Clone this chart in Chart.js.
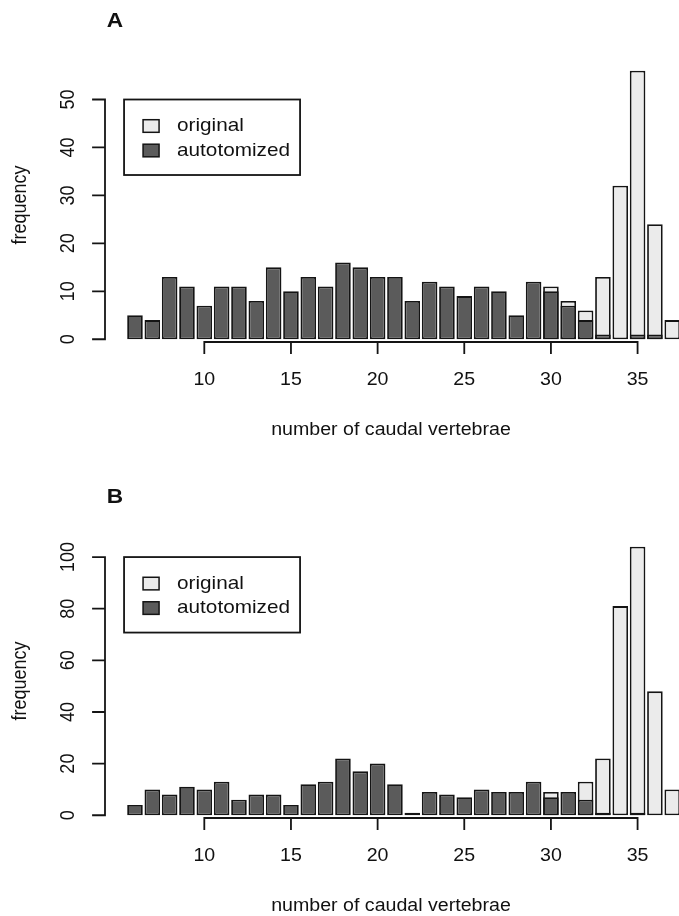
<!DOCTYPE html>
<html>
<head>
<meta charset="utf-8">
<script src="https://cdn.jsdelivr.net/npm/chart.js@4.4.1/dist/chart.umd.min.js"></script>
<style>
  html, body { margin: 0; padding: 0; background: #ffffff; }
  #wrap { position: relative; width: 679px; height: 916px; overflow: hidden; background: #fff; }
  canvas { position: absolute; left: 0; }
  #cA { top: 0; }
  #cB { top: 476px; }
</style>
</head>
<body>
<div id="wrap">
  <canvas id="cA" width="679" height="476"></canvas>
  <canvas id="cB" width="679" height="440"></canvas>
</div>
<script>
// ---- data ----
const categories = [6, 7, 8, 9, 10, 11, 12, 13, 14, 15, 16, 17, 18, 19, 20, 21,
                    22, 23, 24, 25, 26, 27, 28, 29, 30, 31, 32, 33, 34, 35, 36, 37];

const originalA    = [0, 0, 0, 0, 0, 0, 0, 0, 0, 0, 0, 0, 0, 0, 0, 0,
                      0, 0, 0, 0, 0, 0, 0, 0, 11, 8, 6, 13, 32, 56, 24, 4];
const autotomizedA = [5, 4, 13, 11, 7, 11, 11, 8, 15, 10, 13, 11, 16, 15, 13, 13,
                      8, 12, 11, 9, 11, 10, 5, 12, 10, 7, 4, 1, 0, 1, 1, 0];

const originalB    = [0, 0, 0, 0, 0, 0, 0, 0, 0, 0, 0, 0, 0, 0, 0, 0,
                      0, 0, 0, 0, 0, 0, 0, 0, 9, 0, 13, 22, 81, 104, 48, 10];
const autotomizedB = [4, 10, 8, 11, 10, 13, 6, 8, 8, 4, 12, 13, 22, 17, 20, 12,
                      1, 9, 8, 7, 10, 9, 9, 13, 7, 9, 6, 1, 0, 1, 0, 0];

const xTicks  = [10, 15, 20, 25, 30, 35];
const yTicksA = [0, 10, 20, 30, 40, 50];
const yTicksB = [0, 20, 40, 60, 80, 100];

const panelLabels = ['A', 'B'];
const seriesNames = ['original', 'autotomized'];
const xTitle = 'number of caudal vertebrae';
const yTitle = 'frequency';

// ---- styling ----
const LIGHT = '#ebebeb';
const DARK = '#5b5b5b';
const EDGE = '#141414';
const FONT = '"Liberation Sans", Arial, sans-serif';
const SX = 1.12; // horizontal stretch of the reference text

function txt(ctx, s, x, y, size, opts) {
  opts = opts || {};
  ctx.save();
  ctx.translate(x, y);
  ctx.scale(opts.sx || SX, 1);
  if (opts.rot) ctx.rotate(opts.rot);
  ctx.font = (opts.bold ? 'bold ' : '') + size + 'px ' + FONT;
  ctx.fillStyle = '#111';
  ctx.textAlign = opts.align || 'center';
  ctx.textBaseline = 'middle';
  ctx.fillText(s, 0, 0);
  ctx.restore();
}

const rAxes = {
  id: 'rAxes',
  afterDraw(chart, args, o) {
    const ctx = chart.ctx;
    const xs = chart.scales.x, ys = chart.scales.y;
    ctx.save();
    ctx.strokeStyle = EDGE;
    ctx.lineWidth = 1.8;
    ctx.lineCap = 'square';
    // x axis
    const axY = 342;
    const x0 = xs.getPixelForValue(o.xTicks[0]);
    const x1 = xs.getPixelForValue(o.xTicks[o.xTicks.length - 1]);
    ctx.beginPath();
    ctx.moveTo(x0, axY); ctx.lineTo(x1, axY);
    o.xTicks.forEach(t => {
      const px = xs.getPixelForValue(t);
      ctx.moveTo(px, axY); ctx.lineTo(px, axY + 11);
    });
    ctx.stroke();
    o.xTicks.forEach(t => txt(ctx, String(t), xs.getPixelForValue(t), 380, 17.5));
    // y axis
    const axX = 105;
    const y0 = ys.getPixelForValue(o.yTicks[0]);
    const y1 = ys.getPixelForValue(o.yTicks[o.yTicks.length - 1]);
    ctx.beginPath();
    ctx.moveTo(axX, y0); ctx.lineTo(axX, y1);
    o.yTicks.forEach(t => {
      const py = ys.getPixelForValue(t);
      ctx.moveTo(axX, py); ctx.lineTo(axX - 12, py);
    });
    ctx.stroke();
    o.yTicks.forEach(t => txt(ctx, String(t), 68, ys.getPixelForValue(t), 18, {rot: -Math.PI / 2}));
    // titles
    txt(ctx, xTitle, 391, 430, 17.5);
    txt(ctx, yTitle, 20, 205, 18, {rot: -Math.PI / 2});
    txt(ctx, o.label, 115, 21, 21, {bold: true, sx: 1.08});
    // legend
    const lx = xs.getPixelForValue(5.37);
    const ly = ys.getPixelForValue(o.legendY);
    const lw = 176, lh = 75.5;
    ctx.lineWidth = 1.8;
    ctx.strokeRect(lx, ly, lw, lh);
    const fills = [LIGHT, DARK];
    const rows = [26.5, 51];
    ctx.lineWidth = 1.5;
    seriesNames.forEach((n, i) => {
      const cy = ly + rows[i];
      ctx.fillStyle = fills[i];
      ctx.fillRect(lx + 19, cy - 6.3, 16, 12.6);
      ctx.strokeRect(lx + 19, cy - 6.3, 16, 12.6);
      txt(ctx, n, lx + 53, cy, 18.5, {align: 'left'});
    });
    ctx.restore();
  }
};

function makeChart(id, label, orig, auto, yTicks, ymax, legendY) {
  const pts = arr => categories.map((c, i) => ({x: c, y: arr[i]}));
  const common = {
    borderColor: EDGE, borderWidth: 1.8, borderSkipped: false,
    grouped: false, barPercentage: 0.9, categoryPercentage: 1.0
  };
  return new Chart(document.getElementById(id), {
    type: 'bar',
    data: {
      datasets: [
        Object.assign({label: seriesNames[1], data: pts(auto), backgroundColor: DARK, order: 1}, common),
        Object.assign({label: seriesNames[0], data: pts(orig), backgroundColor: LIGHT, order: 2}, common)
      ]
    },
    options: {
      responsive: false,
      animation: false,
      events: [],
      layout: {padding: {left: 105, right: 0, top: 60, bottom: document.getElementById(id).height - 350}},
      scales: {
        x: {type: 'linear', min: 4.27, max: 37.39, display: false, offset: false},
        y: {type: 'linear', min: -0.04 * ymax, max: 1.04 * ymax, display: false}
      },
      plugins: {
        legend: {display: false},
        tooltip: {enabled: false},
        rAxes: {xTicks: xTicks, yTicks: yTicks, label: label, legendY: legendY}
      }
    },
    plugins: [rAxes]
  });
}

makeChart('cA', panelLabels[0], originalA, autotomizedA, yTicksA, 56, 50);
makeChart('cB', panelLabels[1], originalB, autotomizedB, yTicksB, 104, 100);
</script>
</body>
</html>
